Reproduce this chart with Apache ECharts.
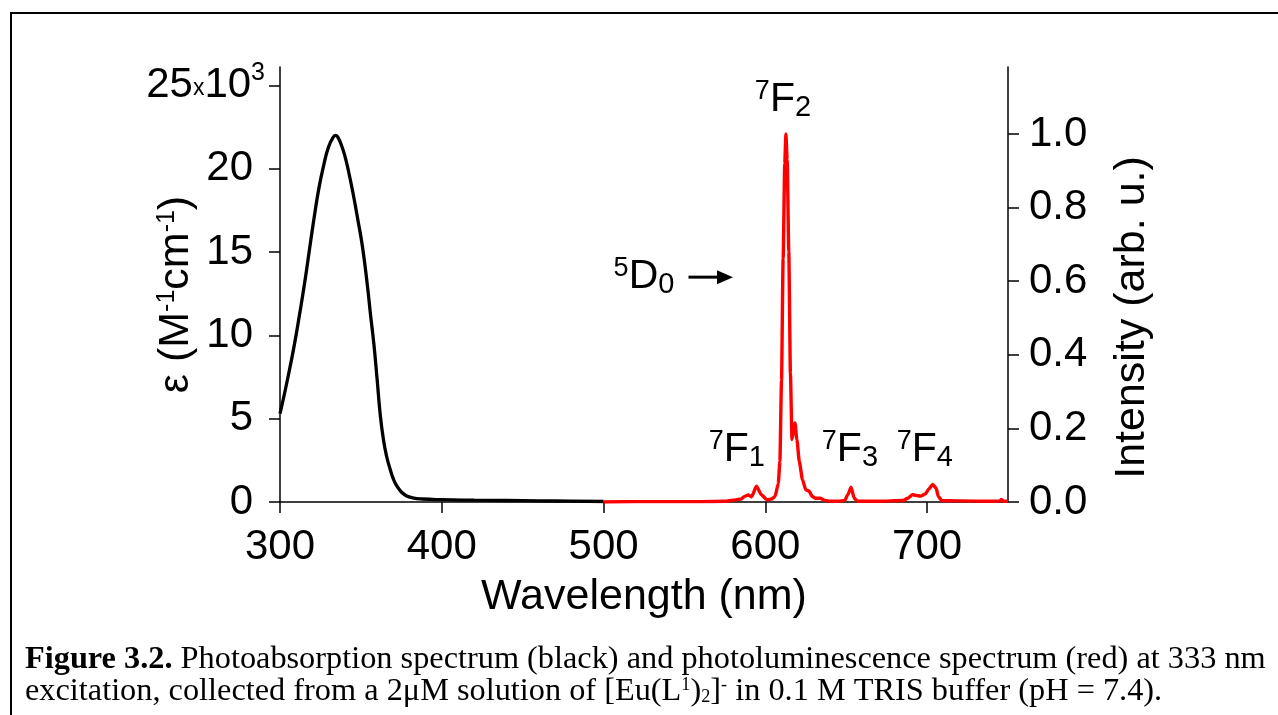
<!DOCTYPE html>
<html>
<head>
<meta charset="utf-8">
<script src="https://cdn.jsdelivr.net/npm/echarts@6/dist/echarts.min.js"></script>
<style>
  html, body { margin: 0; padding: 0; background: #ffffff; }
  #chart { width: 1278px; height: 715px; }
</style>
</head>
<body>
<div id="chart"></div>
<script>
// Photoabsorption spectrum (molar absorptivity, units of 10^3 M^-1 cm^-1)
const absWavelength = [300, 303, 306, 309, 312, 315, 318, 321, 324, 327, 330, 333, 334.5, 336, 338, 340, 342, 345, 348, 351, 354, 356, 358, 360, 362, 364, 366, 368, 370, 372, 375, 378, 382, 388, 400, 420, 440, 460, 480, 500];
const absEpsilon    = [5.3, 6.6, 8.0, 9.5, 11.2, 13.0, 15.0, 17.0, 18.8, 20.2, 21.3, 21.9, 22.0, 21.85, 21.4, 20.8, 20.0, 18.6, 17.0, 15.3, 13.0, 11.2, 9.5, 7.4, 5.2, 3.7, 2.7, 2.0, 1.4, 1.0, 0.6, 0.38, 0.25, 0.18, 0.14, 0.11, 0.09, 0.07, 0.05, 0.03];

// Photoluminescence spectrum (normalised intensity)
const plWavelength = [500, 520, 540, 560, 575, 580, 585, 587.5, 589.5, 591.5, 594.5, 597.5, 601, 604, 606, 608, 609, 610, 611, 612, 612.7, 613.5, 614.5, 615.5, 616.5, 617.5, 618.3, 619.5, 621, 623, 625, 627, 629, 631, 634, 637, 640, 645, 649, 651, 653, 655, 657, 670, 685, 688, 691, 693, 696, 699, 701, 703.5, 705.5, 707, 709, 720, 740, 745, 746, 747, 750];
const plIntensity  = [0, 0.001, 0.001, 0.001, 0.002, 0.005, 0.008, 0.016, 0.019, 0.014, 0.043, 0.02, 0.006, 0.008, 0.015, 0.05, 0.11, 0.33, 0.66, 0.92, 1.0, 0.93, 0.68, 0.35, 0.17, 0.2, 0.215, 0.17, 0.11, 0.06, 0.033, 0.03, 0.015, 0.01, 0.01, 0.004, 0.002, 0.002, 0.004, 0.02, 0.04, 0.01, 0.002, 0.002, 0.004, 0.01, 0.02, 0.018, 0.016, 0.022, 0.035, 0.048, 0.038, 0.015, 0.004, 0.003, 0.002, 0.003, 0.007, 0.002, 0.002];

// Axis ticks
const xTicks = [300, 400, 500, 600, 700];
const leftTicks = [0, 5, 10, 15, 20, 25];
const rightTicks = [0, 0.2, 0.4, 0.6, 0.8, 1.0];

// Transition labels (⁷F_J), anchored in (wavelength, intensity) units
const transitionJ = ['1', '2', '3', '4'];
const transitionWavelength = [582.4, 610.9, 652.3, 698.6];
const transitionIntensity = [0.141, 1.092, 0.141, 0.141];

// Emitting level label and arrow, in (wavelength, intensity) units
const levelLabelAt = [525, 0.611];
const arrowFrom = [552.5, 0.611];
const arrowTo = [580, 0.611];

const AX = '#000000';
const FONT = 'Liberation Sans, Arial, sans-serif';
const LABEL_SIZE = 42;
const NAME_SIZE = 43;

const chart = echarts.init(document.getElementById('chart'), null, { renderer: 'canvas' });

function zip(a, b) { return a.map((v, i) => [v, b[i]]); }

const option = {
  animation: false,
  backgroundColor: '#ffffff',
  grid: { left: 280, right: 270, top: 67, bottom: 213, outerBoundsMode: 'none' },
  xAxis: {
    type: 'value', min: 300, max: 750,
    name: 'Wavelength (nm)', nameLocation: 'middle', nameGap: 74, nameMoveOverlap: false,
    nameTextStyle: { fontFamily: FONT, fontSize: NAME_SIZE, color: AX },
    axisLine: { show: true, lineStyle: { color: AX, width: 1.5 } },
    axisTick: { show: true, inside: false, length: 11, customValues: xTicks, lineStyle: { color: AX, width: 1.5 } },
    axisLabel: { customValues: xTicks, margin: 24, fontFamily: FONT, fontSize: LABEL_SIZE, color: AX },
    splitLine: { show: false }
  },
  yAxis: [
    {
      type: 'value', min: 0, max: 26.1, position: 'left',
      name: '{n|ε (M}{s|-1}{n|cm}{s|-1}{n|)}', nameLocation: 'middle', nameGap: 82, nameRotate: 90,
      nameMoveOverlap: false,
      nameTextStyle: {
        fontFamily: FONT, fontSize: NAME_SIZE, color: AX, padding: [0, 20, 0, 0],
        rich: {
          n: { fontFamily: FONT, fontSize: NAME_SIZE, color: AX },
          s: { fontFamily: FONT, fontSize: 25, color: AX, padding: [0, 0, 18, 0] }
        }
      },
      axisLine: { show: true, lineStyle: { color: AX, width: 1.5 } },
      axisTick: { show: true, inside: false, length: 11, customValues: leftTicks, lineStyle: { color: AX, width: 1.5 } },
      axisLabel: {
        // the exponent of the top label overhangs toward the ticks; plain labels keep a wider gap
        customValues: leftTicks, margin: 15, color: AX, fontFamily: FONT, fontSize: LABEL_SIZE,
        formatter: v => v === 25 ? '{n|25}{x|x}{n|10}{s|3}' : '{g|' + v + '}',
        rich: {
          n: { fontFamily: FONT, fontSize: LABEL_SIZE, color: AX },
          g: { fontFamily: FONT, fontSize: LABEL_SIZE, color: AX, padding: [0, 12, 0, 0] },
          x: { fontFamily: FONT, fontSize: 23, color: AX, padding: [6, 0, 0, 0] },
          s: { fontFamily: FONT, fontSize: 25, color: AX, padding: [0, 0, 24, 0] }
        }
      },
      splitLine: { show: false }
    },
    {
      type: 'value', min: 0, max: 1.182, position: 'right',
      name: 'Intensity (arb. u.)', nameLocation: 'middle', nameGap: 103, nameRotate: 90,
      nameMoveOverlap: false,
      nameTextStyle: { fontFamily: FONT, fontSize: NAME_SIZE, color: AX, padding: [0, 66, 0, 0] },
      axisLine: { show: true, lineStyle: { color: AX, width: 1.5 } },
      axisTick: { show: true, inside: false, length: 11, customValues: rightTicks, lineStyle: { color: AX, width: 1.5 } },
      axisLabel: {
        customValues: rightTicks, margin: 21, fontFamily: FONT, fontSize: LABEL_SIZE, color: AX,
        formatter: v => v.toFixed(1)
      },
      splitLine: { show: false }
    }
  ],
  series: [
    {
      name: 'Absorption', type: 'line', xAxisIndex: 0, yAxisIndex: 0,
      data: zip(absWavelength, absEpsilon),
      showSymbol: false, smooth: 0.5,
      lineStyle: { color: '#000000', width: 3.3 }, z: 3
    },
    {
      name: 'Emission', type: 'line', xAxisIndex: 0, yAxisIndex: 1,
      data: zip(plWavelength, plIntensity),
      showSymbol: false, smooth: 0.2, smoothMonotone: 'x',
      lineStyle: { color: '#ff0000', width: 3.4 }, z: 4
    }
  ]
};

chart.setOption(option);

// Annotations and caption placed from data coordinates
const toPx = p => chart.convertToPixel({ xAxisIndex: 0, yAxisIndex: 1 }, p);

const labelRich = {
  m: { fontFamily: FONT, fontSize: 41, fill: AX },
  p: { fontFamily: FONT, fontSize: 27, fill: AX, padding: [0, 0, 18, 0] },
  b: { fontFamily: FONT, fontSize: 29, fill: AX, padding: [16, 0, 0, 0] }
};

const graphics = [];
transitionJ.forEach((j, i) => {
  const [x, y] = toPx([transitionWavelength[i], transitionIntensity[i]]);
  graphics.push({
    type: 'text', x: x, y: y, z: 10,
    style: { text: '{p|7}{m|F}{b|' + j + '}', rich: labelRich, align: 'center', verticalAlign: 'middle' }
  });
});

const lv = toPx(levelLabelAt);
graphics.push({
  type: 'text', x: lv[0], y: lv[1], z: 10,
  style: { text: '{p|5}{m|D}{b|0}', rich: labelRich, align: 'center', verticalAlign: 'middle' }
});
const a0 = toPx(arrowFrom), a1 = toPx(arrowTo);
graphics.push({
  type: 'line', z: 10,
  shape: { x1: a0[0], y1: a0[1], x2: a1[0] - 14, y2: a1[1] },
  style: { stroke: AX, lineWidth: 3 }
});
graphics.push({
  type: 'polygon', z: 10,
  shape: { points: [[a1[0] - 16, a1[1] - 7], [a1[0], a1[1]], [a1[0] - 16, a1[1] + 7]] },
  style: { fill: AX }
});

// Figure frame (top and left rules)
graphics.push({ type: 'line', shape: { x1: 10, y1: 13, x2: 1278, y2: 13 }, style: { stroke: AX, lineWidth: 2 } });
graphics.push({ type: 'line', shape: { x1: 11, y1: 12, x2: 11, y2: 715 }, style: { stroke: AX, lineWidth: 2 } });

// Caption
const SERIF = 'Liberation Serif, Times New Roman, serif';
const CAP = 32;
const capRich = {
  b: { fontFamily: SERIF, fontSize: CAP, fontWeight: 'bold', fill: AX },
  r: { fontFamily: SERIF, fontSize: CAP, fill: AX },
  s: { fontFamily: SERIF, fontSize: 18, fill: AX, padding: [0, 0, 14, 0] },
  d: { fontFamily: SERIF, fontSize: 18, fill: AX, padding: [10, 0, 0, 0] }
};
graphics.push({
  type: 'text', x: 25, y: 660, scaleX: 1.01,
  style: {
    text: '{b|Figure 3.2.}{r| Photoabsorption spectrum (black) and photoluminescence spectrum (red) at 333 nm}',
    rich: capRich, verticalAlign: 'middle'
  }
});
graphics.push({
  type: 'text', x: 25, y: 692, scaleX: 1.01,
  style: {
    text: '{r|excitation, collected from a 2μM solution of [Eu(L}{s|1}{r|)}{d|2}{r|]}{s|-}{r| in 0.1 M TRIS buffer (pH = 7.4).}',
    rich: capRich, verticalAlign: 'middle'
  }
});

chart.setOption({ graphic: graphics });
</script>
</body>
</html>
